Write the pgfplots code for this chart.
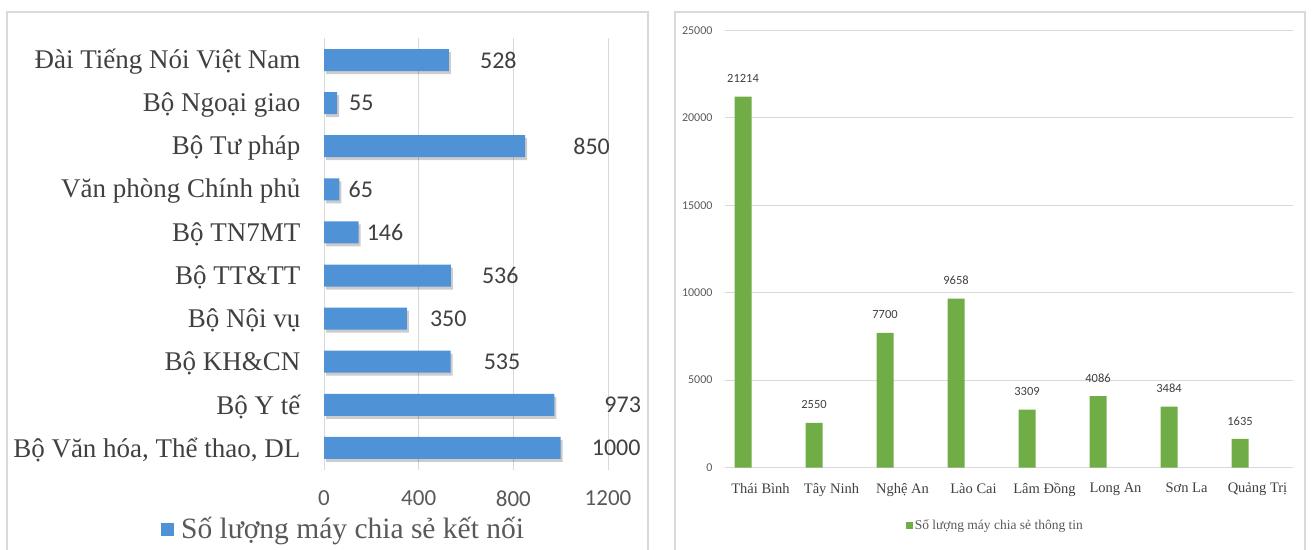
\documentclass[border=0pt]{standalone}
\usepackage{fontspec}
\setmainfont{Liberation Serif}
\newfontfamily\calibri{Carlito}
\usepackage{pgfplots}
\usepackage{pgfplotstable}
\pgfplotsset{compat=1.18}

\definecolor{txt}{RGB}{64,64,64}
\definecolor{txtl}{RGB}{89,89,89}
\definecolor{gridc}{RGB}{217,217,217}
\definecolor{framec}{RGB}{217,217,217}
\definecolor{blueL}{RGB}{79,146,214}
\definecolor{greenL}{RGB}{112,173,71}

\pgfplotstableread{
idx val off
0 1000 31
1 973 50
2 535 33
3 350 23
4 536 31
5 146 8
6 65 9
7 850 48
8 55 12
9 528 31
}\leftdata

\pgfplotstableread{
idx val
0 21214
1 2550
2 7700
3 9658
4 3309
5 4086
6 3484
7 1635
}\rightdata

\begin{document}
\begin{tikzpicture}[x=1pt,y=1pt]
\useasboundingbox (0,0) rectangle (1312,549);
\draw[framec, line width=1.2pt] (7,-5) -- (7,537) -- (648,537) -- (648,-5);
\draw[framec, line width=1.2pt] (675,-5) -- (675,537) -- (1305,537) -- (1305,-5);

\begin{axis}[
  at={(324pt,79.5pt)}, anchor=south west,
  scale only axis, width=284pt, height=431pt,
  xbar, bar width=22pt,
  xmin=0, xmax=1200, ymin=-0.5, ymax=9.5,
  xtick={0,400,800,1200},
  ytick={0,...,9},
  yticklabels={{Bộ Văn hóa, Thể thao, DL},{Bộ Y tế},{Bộ KH\&CN},{Bộ Nội vụ},{Bộ TT\&TT},{Bộ TN7MT},{Văn phòng Chính phủ},{Bộ Tư pháp},{Bộ Ngoại giao},{Đài Tiếng Nói Việt Nam}},
  axis line style={draw=none},
  major tick length=0pt,
  xmajorgrids, grid style={gridc, line width=1pt},
  /pgf/number format/assume math mode=true,
  /pgf/number format/1000 sep={},
  xticklabel style={font=\calibri\fontsize{23}{27}\selectfont, text=txtl, yshift=-18pt},
  yticklabel style={font=\fontsize{27}{31}\selectfont, text=txt, xshift=-20pt, yshift=-2pt},
  legend style={at={(0.069,-0.137)}, anchor=center, draw=none, fill=none,
    font=\fontsize{29.5}{34}\selectfont, text=txtl,
    /tikz/every odd column/.append style={column sep=5pt}},
  legend image code/.code={\fill[blueL] (0pt,-7pt) rectangle (13pt,6pt);},
]
\addplot[forget plot, draw=none, fill=black, fill opacity=0.2, xshift=2pt, yshift=-3pt]
  table[x=val, y=idx] {\leftdata};
\addplot[draw=none, fill=blueL,
  nodes near coords,
  nodes near coords style={font=\calibri\fontsize{24}{28}\selectfont, text=txt, anchor=west, inner sep=0pt, xshift=\myoff pt},
  visualization depends on={\thisrow{off} \as \myoff}]
  table[x=val, y=idx] {\leftdata};
\addlegendentry{Số lượng máy chia sẻ kết nối}
\end{axis}

\begin{axis}[
  at={(725pt,81.5pt)}, anchor=south west,
  scale only axis, width=568pt, height=437pt,
  ybar, bar width=17pt, bar shift=-17.5pt,
  xmin=-0.5, xmax=7.5, ymin=0, ymax=25000,
  xtick={0,...,7},
  xticklabels={Thái Bình, Tây Ninh, Nghệ An, Lào Cai, Lâm Đồng, Long An, Sơn La, Quảng Trị},
  ytick={0,5000,10000,15000,20000,25000},
  scaled y ticks=false,
  ymajorgrids, grid style={gridc, line width=1pt},
  axis line style={draw=none},
  major tick length=0pt,
  /pgf/number format/assume math mode=true,
  /pgf/number format/1000 sep={},
  yticklabel style={font=\calibri\fontsize{12}{14}\selectfont, text=txtl, xshift=-9pt},
  xticklabel style={font=\fontsize{14.5}{16}\selectfont, text=txt, yshift=-12pt},
  nodes near coords,
  nodes near coords style={font=\calibri\fontsize{12.5}{14}\selectfont, text=txt, anchor=center, inner sep=0pt, yshift=18pt},
  legend style={at={(0.476,-0.133)}, anchor=center, draw=none, fill=none, font=\fontsize{13.5}{16}\selectfont, text=txtl},
  legend image code/.code={\fill[greenL] (0pt,-3pt) rectangle (7pt,4pt);},
]
\addplot[draw=none, fill=greenL]
  table[x=idx, y=val] {\rightdata};
\addlegendentry{Số lượng máy chia sẻ thông tin}
\end{axis}
\end{tikzpicture}
\end{document}
